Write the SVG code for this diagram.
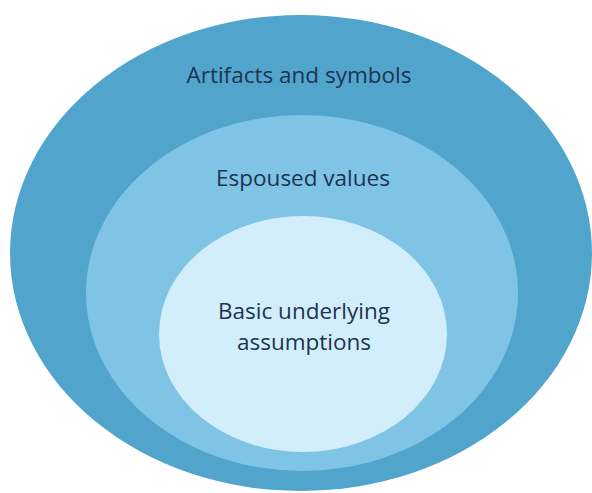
<svg xmlns="http://www.w3.org/2000/svg" width="592" height="493" viewBox="0 0 592 493">
<style>
.lbl{font-family:"Open Sans","Noto Sans",sans-serif;font-size:22.5px;fill:#1e3350;text-anchor:middle}
</style>
<rect width="592" height="493" fill="#ffffff"/>
<g id="artifacts">
<ellipse cx="301" cy="253" rx="291" ry="238" fill="#51a5cd"/>
<text class="lbl" x="299" y="83">Artifacts and symbols</text>
</g>
<g id="espoused">
<ellipse cx="302" cy="293" rx="216" ry="178" fill="#7fc4e4"/>
<text class="lbl" x="303" y="186">Espoused values</text>
</g>
<g id="basic">
<ellipse cx="303" cy="334" rx="144" ry="118" fill="#d3eefb"/>
<text class="lbl" x="304" y="319">Basic underlying</text>
<text class="lbl" x="304" y="350">assumptions</text>
</g>
<g id="connectors"/>
</svg>
